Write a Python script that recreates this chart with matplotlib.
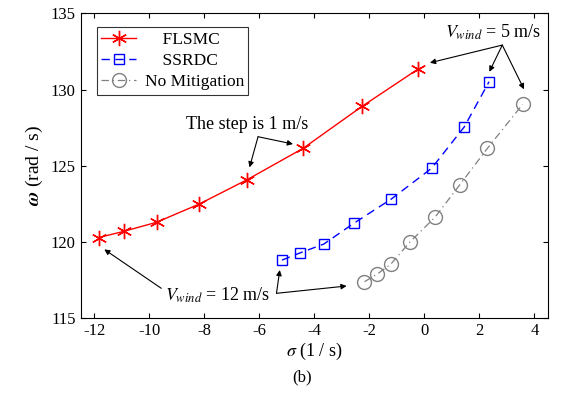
import matplotlib
matplotlib.use('Agg')
import matplotlib.pyplot as plt

plt.rcParams['font.family'] = ['Liberation Serif', 'DejaVu Serif']
plt.rcParams['mathtext.fontset'] = 'stix'
plt.rcParams['font.size'] = 12

# data
flsmc_x = [-11.84, -10.94, -9.74, -8.18, -6.44, -4.41, -2.27, -0.23]
flsmc_y = [120.3, 120.7, 121.3, 122.5, 124.1, 126.15, 128.9, 131.35]

ssrdc_x = [-5.18, -4.51, -3.66, -2.57, -1.20, 0.26, 1.45, 2.35]
ssrdc_y = [118.82, 119.3, 119.87, 121.23, 122.83, 124.84, 127.56, 130.52]

nomit_x = [-2.18, -1.72, -1.23, -0.52, 0.38, 1.29, 2.29, 3.57]
nomit_y = [117.4, 117.9, 118.54, 120.02, 121.62, 123.77, 126.15, 129.03]

xticks = [-12, -10, -8, -6, -4, -2, 0, 2, 4]
yticks = [115, 120, 125, 130, 135]

fig = plt.figure(figsize=(5.64, 3.93), dpi=100)
ax = fig.add_axes([0.143, 0.190, 0.829, 0.776])

ax.plot(flsmc_x, flsmc_y, '-', color='red', marker=(6, 2, 0), markersize=11,
        markeredgewidth=1, linewidth=1, label='    FLSMC')
ax.plot(ssrdc_x, ssrdc_y, color='blue', linestyle=(0, (6, 4)), marker='s',
        markersize=7, markerfacecolor='none', linewidth=1, label='    SSRDC')
ax.plot(nomit_x, nomit_y, color='#808080', linestyle=(0, (6, 3, 1, 3)),
        marker='o', markersize=10, markerfacecolor='none', linewidth=0.9,
        label='No Mitigation')

ax.set_xlim(-12.5, 4.5)
ax.set_ylim(115, 135)
ax.set_xticks(xticks)
ax.set_yticks(yticks)
ax.set_xticklabels([str(t) for t in xticks])
ax.tick_params(direction='in', top=True, right=True, labelsize=12)

ax.set_xlabel(r'$\sigma$ (1 / s)', fontsize=13, labelpad=1)
ax.set_ylabel(r'$\boldsymbol{\omega}$ (rad / s)', fontsize=14, labelpad=4)
fig.text(0.535, 0.03, '(b)', ha='center', fontsize=12)

leg = ax.legend(loc='upper left', fontsize=12.5, frameon=True, fancybox=False,
                edgecolor='black', borderpad=0.25, labelspacing=0.3,
                handlelength=2.0, handletextpad=0.5, borderaxespad=0,
                bbox_to_anchor=(0.035, 0.955))
leg.get_frame().set_linewidth(0.8)

arrow = dict(arrowstyle='-|>', color='black', lw=0.8, mutation_scale=8,
             shrinkA=0, shrinkB=0)

# V_wind = 5 m/s
ax.text(2.49, 133.77, r'$V_{wind}$ = 5 m/s', ha='center', va='center', fontsize=13)
for hx, hy in [(0.20, 131.76), (2.36, 131.17), (3.62, 130.02)]:
    ax.annotate('', xy=(hx, hy), xytext=(2.83, 132.92), arrowprops=arrow)

# the step
ax.text(-6.45, 127.68, 'The step is 1 m/s', ha='center', va='center', fontsize=13)
for hx, hy in [(-4.78, 126.43), (-6.36, 124.90)]:
    ax.annotate('', xy=(hx, hy), xytext=(-6.05, 126.91), arrowprops=arrow)

# V_wind = 12 m/s
ax.text(-7.52, 116.53, r'$V_{wind}$ = 12 m/s', ha='center', va='center', fontsize=13)
ax.annotate('', xy=(-11.64, 119.52), xytext=(-9.57, 116.97), arrowprops=arrow)
for hx, hy in [(-5.26, 118.17), (-2.83, 117.12)]:
    ax.annotate('', xy=(hx, hy), xytext=(-5.38, 116.64), arrowprops=arrow)

fig.savefig('out.png', dpi=100)
